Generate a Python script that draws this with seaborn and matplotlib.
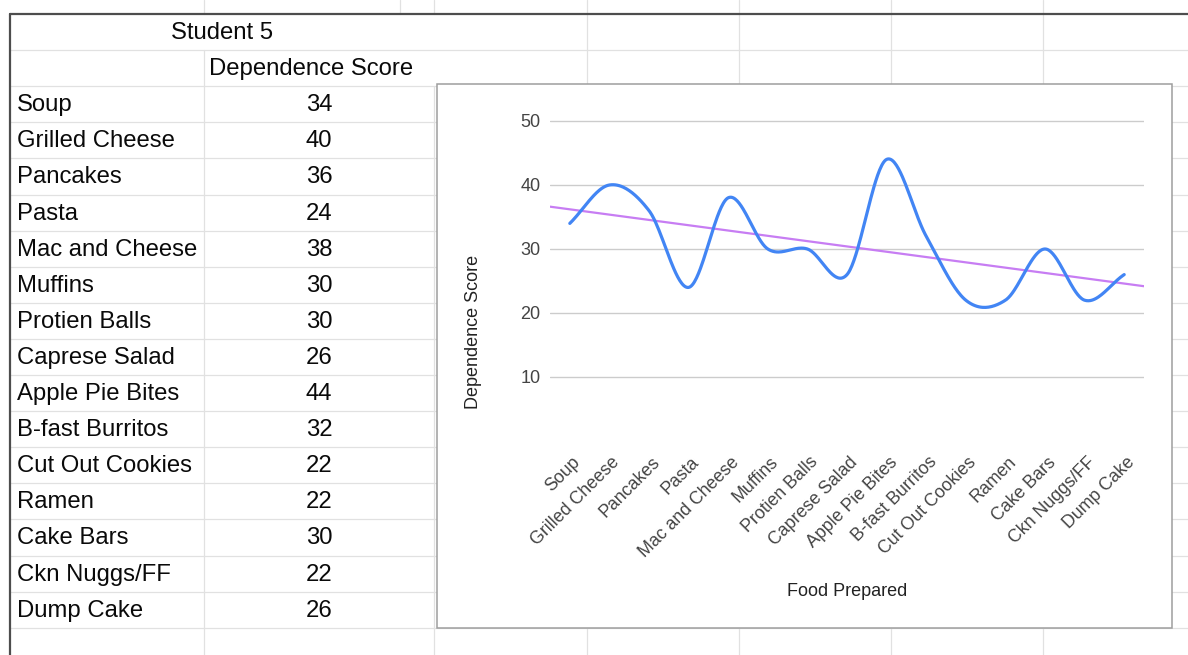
import numpy as np
import matplotlib
matplotlib.use("Agg")
import matplotlib.pyplot as plt
import matplotlib.transforms as mtransforms
from matplotlib.patches import Rectangle
import seaborn as sns

# ---- data -------------------------------------------------------------
foods = ["Soup", "Grilled Cheese", "Pancakes", "Pasta", "Mac and Cheese", "Muffins",
         "Protien Balls", "Caprese Salad", "Apple Pie Bites", "B-fast Burritos",
         "Cut Out Cookies", "Ramen", "Cake Bars", "Ckn Nuggs/FF", "Dump Cake"]
scores = [34, 40, 36, 24, 38, 30, 30, 26, 44, 32, 22, 22, 30, 22, 26]
sheet_title = "Student 5"
value_header = "Dependence Score"
x_title = "Food Prepared"
y_title = "Dependence Score"
y_ticks = [10, 20, 30, 40, 50]

# ---- style ------------------------------------------------------------
sns.set_style("white")
plt.rcParams["font.family"] = ["Liberation Sans", "DejaVu Sans"]

W, H = 1188, 655
fig = plt.figure(figsize=(W / 100, H / 100), dpi=100)
fig.patch.set_facecolor("white")

# ---- spreadsheet background ------------------------------------------
sheet = fig.add_axes([0, 0, 1, 1])
sheet.set_xlim(0, W)
sheet.set_ylim(H, 0)
sheet.axis("off")

grid_c = "#e1e1e1"
row_h = 36.1
top = 14
rows = [top + row_h * k for k in range(18)]
col_a, col_b, col_c = 10, 204, 434
other_cols = [587, 739, 891, 1043]

# horizontal cell borders
for y in rows[1:]:
    sheet.plot([col_a, W], [y, y], color=grid_c, lw=0.9, zorder=1)
# vertical cell borders
sheet.plot([col_b, col_b], [0, top], color=grid_c, lw=0.9, zorder=1)
sheet.plot([col_b, col_b], [rows[1], H], color=grid_c, lw=0.9, zorder=1)
sheet.plot([400, 400], [0, top], color=grid_c, lw=0.9, zorder=1)
sheet.plot([col_c, col_c], [0, top], color=grid_c, lw=0.9, zorder=1)
sheet.plot([col_c, col_c], [rows[2], H], color=grid_c, lw=0.9, zorder=1)
for x in other_cols:
    sheet.plot([x, x], [0, H], color=grid_c, lw=0.9, zorder=1)
# frozen pane borders
sheet.plot([col_a, W], [top, top], color="#4d4d4d", lw=1.6, zorder=3)
sheet.plot([col_a, col_a], [top, H], color="#4d4d4d", lw=1.6, zorder=3)

# table text
txt_kw = dict(fontsize=17.2, color="#0a0a0a", va="center", zorder=4)
sheet.text((col_a + col_c) / 2, (rows[0] + rows[1]) / 2 + 1, sheet_title, ha="center", **txt_kw)
sheet.text(311, (rows[1] + rows[2]) / 2 + 1, value_header, ha="center", **txt_kw)
for k, (food, val) in enumerate(zip(foods, scores)):
    yc = (rows[k + 2] + rows[k + 3]) / 2 + 1
    sheet.text(17, yc, food, ha="left", **txt_kw)
    sheet.text(319, yc, str(val), ha="center", **txt_kw)

# chart card
sheet.add_patch(Rectangle((437, 84), 1172 - 437, 628 - 84, facecolor="white",
                          edgecolor="#9e9e9e", lw=1.1, zorder=5))

# ---- chart ------------------------------------------------------------
px_per_unit = 6.4
y0_px = 441
ymax = 51
ax_left, ax_right = 550, 1144
ax_top = y0_px - ymax * px_per_unit
ax = fig.add_axes([ax_left / W, 1 - y0_px / H, (ax_right - ax_left) / W,
                   (y0_px - ax_top) / H])
ax.set_zorder(6)
ax.patch.set_alpha(0)

n = len(scores)
xpos = np.arange(n)
ax.set_xlim(-0.5, n - 0.5)
ax.set_ylim(0, ymax)


def smooth_curve(values, steps=40):
    """Cardinal (Catmull-Rom) spline through the points, as used for smoothed lines."""
    v = np.asarray(values, float)
    m = np.empty_like(v)
    m[1:-1] = (v[2:] - v[:-2]) / 2
    m[0] = v[1] - v[0]
    m[-1] = v[-1] - v[-2]
    t = np.linspace(0, 1, steps, endpoint=False)
    h00 = 2 * t**3 - 3 * t**2 + 1
    h10 = t**3 - 2 * t**2 + t
    h01 = -2 * t**3 + 3 * t**2
    h11 = t**3 - t**2
    xs, ys = [], []
    for i in range(len(v) - 1):
        xs.append(i + t)
        ys.append(h00 * v[i] + h10 * m[i] + h01 * v[i + 1] + h11 * m[i + 1])
    xs.append([len(v) - 1])
    ys.append([v[-1]])
    return np.concatenate(xs), np.concatenate(ys)


# linear trend line across the full plot width
sns.regplot(x=xpos, y=np.asarray(scores, float), ax=ax, scatter=False, ci=None,
            truncate=False, color="#c77df3", line_kws=dict(lw=1.6, zorder=2))

sx, sy = smooth_curve(scores)
sns.lineplot(x=sx, y=sy, ax=ax, color="#4285f4", linewidth=2.3, estimator=None,
             zorder=3)

ax.set_xlim(-0.5, n - 0.5)
ax.set_ylim(0, ymax)
ax.set_yticks(y_ticks)
ax.set_yticklabels([str(v) for v in y_ticks])
ax.yaxis.grid(True, color="#cccccc", lw=1.0)
ax.xaxis.grid(False)
for s in ax.spines.values():
    s.set_visible(False)

ax.set_xticks(xpos)
ax.set_xticklabels(foods, rotation=45, ha="right", va="center", rotation_mode="anchor")
ax.tick_params(axis="x", length=0, pad=13.5, labelsize=12.8, labelcolor="#444444")
ax.tick_params(axis="y", length=0, pad=7, labelsize=13, labelcolor="#444444")
shift = mtransforms.ScaledTranslation(8 / 100, 0, fig.dpi_scale_trans)
for lab in ax.get_xticklabels():
    lab.set_transform(lab.get_transform() + shift)

ax.set_xlabel(x_title, fontsize=13, color="#222222")
ax.set_ylabel(y_title, fontsize=13, color="#222222")
ax.xaxis.set_label_coords(0.5, (y0_px - 583) / (y0_px - ax_top))
ax.yaxis.set_label_coords((482 - ax_left) / (ax_right - ax_left),
                          (y0_px - 332) / (y0_px - ax_top))

fig.savefig("out.png", dpi=100)
